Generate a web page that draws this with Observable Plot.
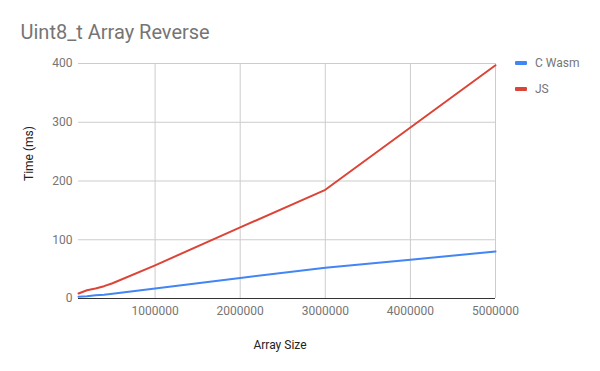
<!DOCTYPE html>
<html><head><meta charset="utf-8">
<script src="https://cdn.jsdelivr.net/npm/d3@7"></script>
<script src="https://cdn.jsdelivr.net/npm/@observablehq/plot@0.6"></script>
<style>
body{margin:0;background:#fff;font-family:Roboto,sans-serif;}
#wrap{position:relative;width:600px;height:371px;overflow:hidden;}
.leg{position:absolute;left:515px;font-size:12px;color:#757575;font-family:Roboto,sans-serif;line-height:14px;white-space:nowrap;}
.sw{position:absolute;left:0;top:5px;width:12px;height:4px;border-radius:1px;}
.lt{position:absolute;left:20px;top:0;}
</style></head>
<body><div id="wrap"></div>
<script>
const sizes = [100000, 200000, 300000, 400000, 500000, 1000000, 2000000, 3000000, 4000000, 5000000];
const wasmTimes = [3, 4, 5.5, 6.5, 8, 17, 35, 52.5, 66, 80];
const jsTimes = [8.5, 14, 17, 21, 26, 56.5, 121, 185, 291, 397];
const seriesNames = ["C Wasm", "JS"];
const seriesColors = ["#4285F4", "#DB4437"];
const xTicks = [1000000, 2000000, 3000000, 4000000, 5000000];
const yTicks = [0, 100, 200, 300, 400];
const titleText = "Uint8_t Array Reverse";
const xLabel = "Array Size";
const yLabel = "Time (ms)";

const data = sizes.flatMap((s, i) => [
  {size: s, time: wasmTimes[i], series: seriesNames[0]},
  {size: s, time: jsTimes[i], series: seriesNames[1]}
]);

const chart = Plot.plot({
  width: 600, height: 371,
  marginLeft: 78, marginRight: 105, marginTop: 63, marginBottom: 73,
  style: {fontFamily: "Roboto, sans-serif", fontSize: "12px", color: "#757575", background: "#fff", overflow: "visible"},
  x: {domain: [100000, 5000000], label: null},
  y: {domain: [0, 400], label: null},
  color: {domain: seriesNames, range: seriesColors},
  marks: [
    Plot.gridX(xTicks, {stroke: "#cccccc", strokeOpacity: 1}),
    Plot.gridY(yTicks.slice(1), {stroke: "#cccccc", strokeOpacity: 1}),
    Plot.axisX(xTicks, {tickSize: 0, tickPadding: 8, tickFormat: d => String(d), fill: "#757575", label: null, fontSize: 12}),
    Plot.axisY(yTicks, {tickSize: 0, tickPadding: 6, fill: "#757575", label: null, fontSize: 12}),
    Plot.lineY(data, {x: "size", y: "time", stroke: "series", strokeWidth: 2}),
    Plot.ruleY([0], {stroke: "#333333", strokeWidth: 1}),
    Plot.text([titleText], {frameAnchor: "top-left", dx: -58, dy: -31, textAnchor: "start", lineAnchor: "middle", fontSize: 20, fill: "#757575"}),
    Plot.text([yLabel], {frameAnchor: "left", dx: -49, rotate: -90, lineAnchor: "middle", fontSize: 12, fill: "#222222"}),
    Plot.text([xLabel], {frameAnchor: "bottom", dx: -7, dy: 47, lineAnchor: "middle", fontSize: 12, fill: "#222222"})
  ]
});

const wrap = document.getElementById("wrap");
wrap.appendChild(chart);
seriesNames.forEach((name, i) => {
  const d = document.createElement("div");
  d.className = "leg";
  d.style.top = (56 + i * 26) + "px";
  const sw = document.createElement("div");
  sw.className = "sw";
  sw.style.background = seriesColors[i];
  const t = document.createElement("div");
  t.className = "lt";
  t.textContent = name;
  d.appendChild(sw); d.appendChild(t);
  wrap.appendChild(d);
});
</script>
</body></html>
